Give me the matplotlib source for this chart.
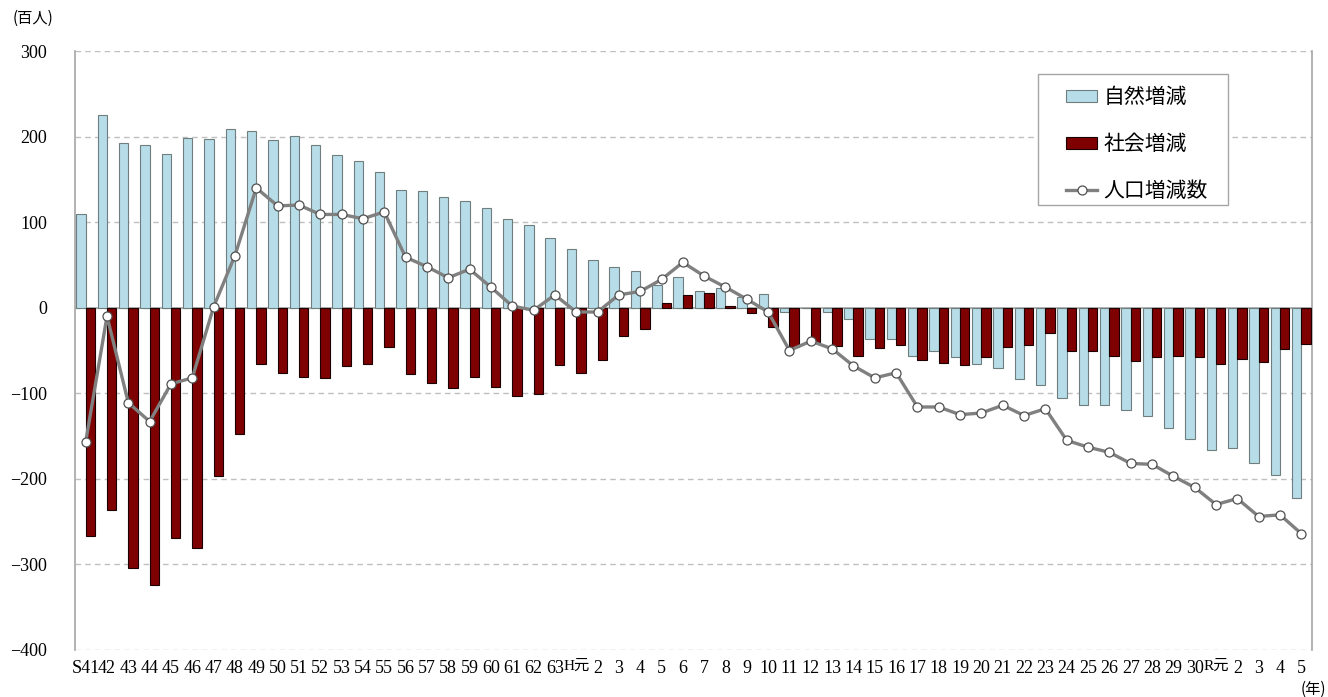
import numpy as np
import matplotlib
matplotlib.use('Agg')
import matplotlib.pyplot as plt
from matplotlib.patches import Rectangle

plt.rcParams['font.family'] = ['Liberation Serif', 'Noto Sans CJK JP']

years = (['S41'] + [str(y) for y in range(42, 64)] +
         ['H元'] + [str(y) for y in range(2, 31)] +
         ['R元', '2', '3', '4', '5'])

# 自然増減 (百人)
natural = [110, 225, 192, 190, 180, 198, 197, 209, 206, 196,
           201, 190, 178, 171, 159, 137, 136, 129, 125, 116,
           104, 97, 82, 69, 56, 48, 43, 27, 36, 20,
           23, 13, 16, -5, 0, -5, -13, -37, -36, -57,
           -51, -58, -66, -70, -83, -90, -106, -114, -114, -120,
           -127, -141, -154, -166, -164, -181, -195, -222]

# 社会増減 (百人)
social = [-267, -236, -304, -324, -269, -281, -197, -147, -66, -76,
          -81, -82, -68, -66, -46, -78, -88, -94, -81, -93,
          -103, -101, -67, -76, -61, -33, -25, 5, 15, 17,
          2, -6, -22, -46, -40, -45, -57, -47, -43, -61,
          -65, -67, -58, -46, -44, -30, -50, -50, -57, -62,
          -58, -57, -58, -66, -60, -63, -48, -42]

# 人口増減数 (百人)
total = [-157, -10, -111, -133, -89, -82, 1, 61, 140, 119,
         120, 109, 109, 104, 112, 59, 48, 35, 45, 24,
         2, -3, 15, -5, -5, 15, 19, 33, 53, 37,
         24, 10, -5, -50, -39, -48, -68, -82, -76, -116,
         -116, -125, -123, -114, -126, -118, -155, -163, -169, -182,
         -183, -197, -210, -230, -223, -244, -242, -264]

x = np.arange(len(years))
w = 0.44
W, H = 1328, 697

fig = plt.figure(figsize=(W / 100, H / 100), dpi=100)
ax = fig.add_axes([75 / W, 1 - 650 / H, (1312 - 75) / W, (650 - 51) / H])

b1 = ax.bar(x - w / 2, natural, width=w, color='#b7dde8', edgecolor='#6f7f80',
            linewidth=0.8, label='自然増減', zorder=3)
b2 = ax.bar(x + w / 2, social, width=w, color='#7f0000', edgecolor='#1a0000',
            linewidth=0.8, label='社会増減', zorder=3)
ln, = ax.plot(x, total, color='#808080', lw=2.4, marker='o', markersize=6.5,
              markerfacecolor='white', markeredgecolor='#505050', markeredgewidth=0.9,
              label='人口増減数', zorder=4)

ax.axhline(0, color='#a6a6a6', lw=1.2, zorder=2)

ax.set_xlim(-0.5, len(years) - 0.5)
ax.set_ylim(-400, 300)
ax.set_yticks(np.arange(-400, 301, 100))
ax.set_xticks(x)
ax.set_xticklabels(years)
ax.tick_params(axis='both', length=0, labelsize=13)
ax.tick_params(axis='y', pad=20)
ax.tick_params(axis='x', pad=7)
for t in ax.get_xticklabels():
    if '元' in t.get_text():
        t.set_fontsize(11)

ax.yaxis.grid(True, color='#bfbfbf', linestyle=(0, (4, 3)), lw=1)
ax.set_axisbelow(True)
for s in ['top', 'bottom']:
    ax.spines[s].set_visible(False)
for s in ['left', 'right']:
    ax.spines[s].set_color('#a6a6a6')
    ax.spines[s].set_linewidth(1.2)

fig.text(13 / W, 1 - 18 / H, '(百人)', fontsize=11, va='center', ha='left',
         family=['Noto Sans CJK JP'])
fig.text(1326 / W, 1 - 689 / H, '(年)', fontsize=11, va='center', ha='right',
         family=['Noto Sans CJK JP'])

# legend box drawn separately so the padding matches
fig.patches.append(Rectangle((1038 / W, 1 - 205 / H), (1228 - 1038) / W, (205 - 74) / H,
                             transform=fig.transFigure, facecolor='white',
                             edgecolor='#a6a6a6', lw=1, zorder=5))
leg = fig.legend([b1, b2, ln], ['自然増減', '社会増減', '人口増減数'],
                 loc='upper left', bbox_to_anchor=(1066 / W, 1 - 86 / H),
                 frameon=False, handlelength=1.5, handleheight=0.5,
                 labelspacing=1.2, borderpad=0, handletextpad=0.3, borderaxespad=0,
                 prop={'family': ['Noto Sans CJK JP'], 'size': 15})
leg.set_zorder(6)

fig.savefig('out.png', dpi=100)
